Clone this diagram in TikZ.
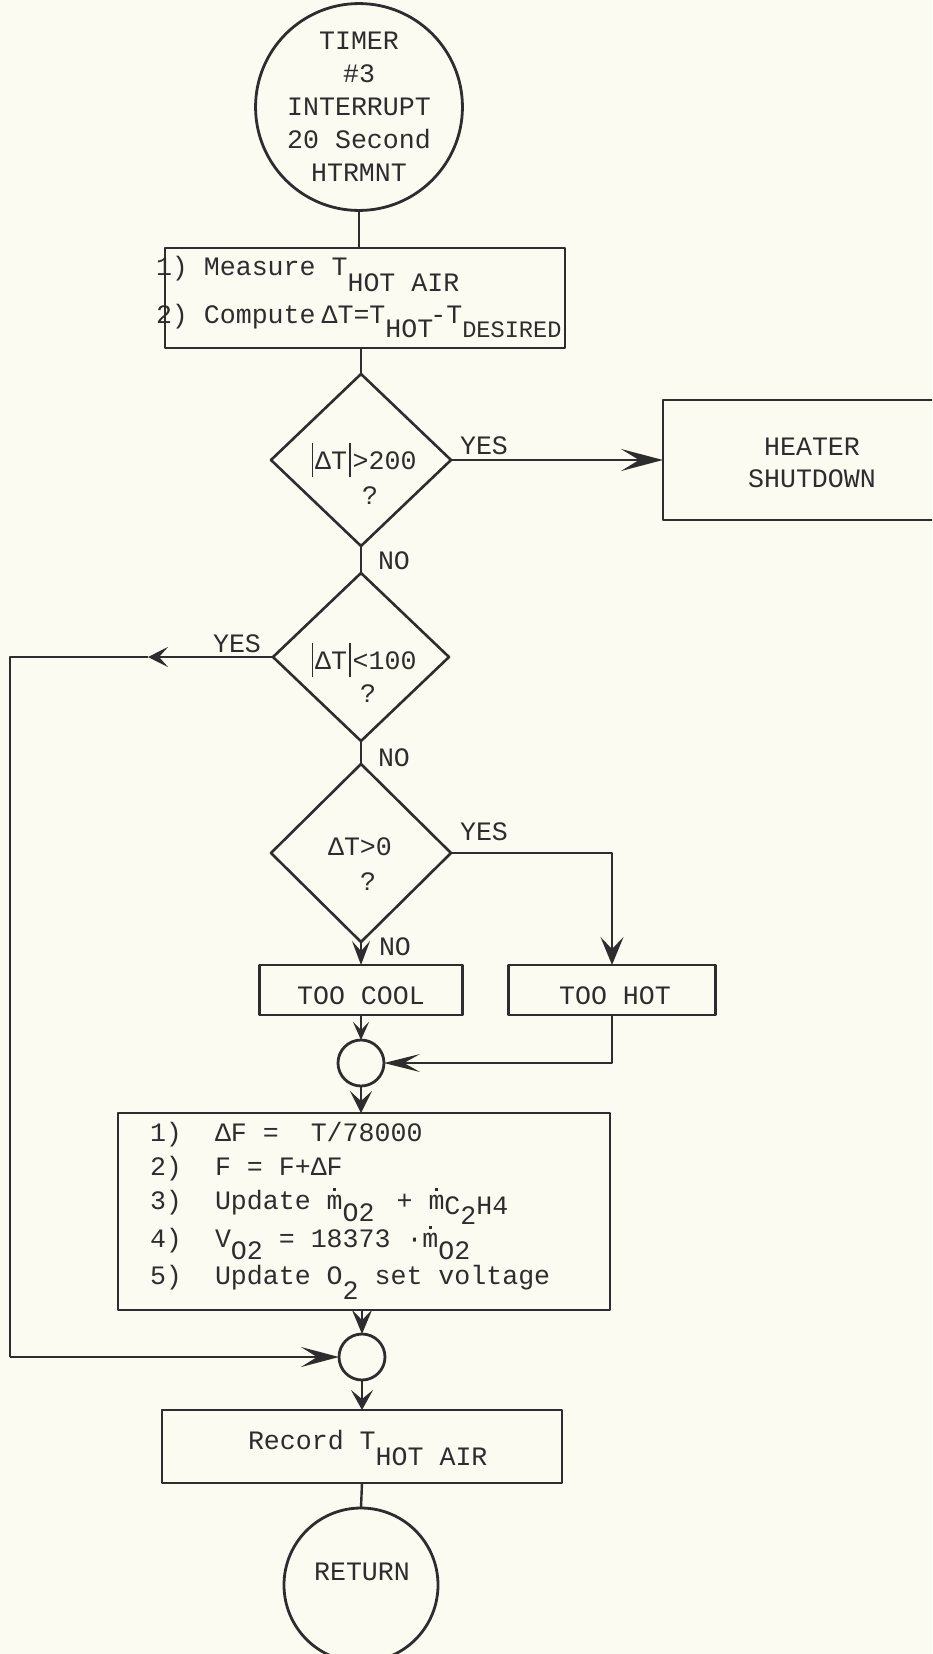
\documentclass[tikz,border=0pt]{standalone}
\usepackage{fontspec}
\newfontfamily\tw{Liberation Mono}
\usetikzlibrary{arrows.meta,shapes.geometric}
\definecolor{paper}{RGB}{251,251,242}
\definecolor{ink}{RGB}{45,45,45}
\newcommand\sub[2][7.5pt]{\raisebox{-#1}{#2}}
\newcommand\mdt{\ooalign{m\cr\hidewidth\raisebox{9pt}{\rule{1.6pt}{1.6pt}}\hidewidth\cr}}
\newcommand\vb{\kern1pt\rule[-4pt]{0.8pt}{17pt}\kern1pt}
\tikzset{
  shapeb/.style={draw=ink, line width=1.4pt},
  dia/.style={diamond, draw=ink, line width=1.3pt},
  conn/.style={draw=ink, line width=1.2pt},
  lbl/.style={anchor=base west},
  ctr/.style={anchor=base},
  arw/.style n args={3}{-{Stealth[length=#1,width=#2,inset=#3]}},
}
\begin{document}
\begin{tikzpicture}[x=0.5pt,y=-0.5pt,line join=round,
  every node/.style={font=\tw\fontsize{13.3}{16.5}\selectfont, text=ink, inner sep=0pt, outer sep=0pt}]
\useasboundingbox (0,0) rectangle (932,1654);
\fill[paper] (0,0) rectangle (932,1654);
\clip (0,0) rectangle (932,1654);

% start
\node[shapeb, circle, minimum size=100pt, align=center] (start) at (359,107) {TIMER\\\#3\\INTERRUPT\\20 Second\\HTRMNT};

% box 1
\node[shapeb, minimum width=200pt, minimum height=50pt] (box1) at (365,298) {};
\node[lbl] (b1a) at (156,275) {1) Measure T\sub[8pt]{HOT AIR}};
\node[lbl] (b1b) at (156,323) {2) Compute\kern3pt ΔT=T\sub[7pt]{HOT}\kern-1.5pt-T\sub[7pt]{\fontsize{11.8}{13}\selectfont DESIRED}};

% decision 1
\node[dia, minimum width=90pt, minimum height=86pt] (d1) at (361,460) {};
\node[ctr] (d1a) at (363,469) {\vb ΔT\vb>200};
\node[ctr] (d1q) at (370,504) {?};

% heater
\node[shapeb, minimum width=141pt, minimum height=60pt] (heat) at (804,460) {};
\node[ctr] (heat1) at (812,455) {HEATER};
\node[ctr] (heat2) at (812,487) {SHUTDOWN};

% decision 2
\node[dia, minimum width=88pt, minimum height=84pt] (d2) at (361,657) {};
\node[ctr] (d2a) at (363,669) {\vb ΔT\vb<100};
\node[ctr] (d2q) at (368,702) {?};

% decision 3
\node[dia, minimum width=90pt, minimum height=89pt] (d3) at (361,853) {};
\node[ctr] (d3a) at (360,855) {ΔT>0};
\node[ctr] (d3q) at (368,890) {?};

% too cool / too hot
\node[shapeb, minimum width=101.5pt, minimum height=25pt] (cool) at (361,990) {};
\node[ctr] (coolt) at (361,1004) {TOO COOL};
\node[shapeb, minimum width=103.5pt, minimum height=25pt] (hot) at (612,990) {};
\node[ctr] (hott) at (615,1004) {TOO HOT};

% merge 1
\node[shapeb, circle, minimum size=23pt] (m1) at (361,1063) {};

% big box
\node[shapeb, minimum width=246pt, minimum height=98.5pt] (big) at (364,1211.5) {};
\node[lbl] (g1n) at (150,1141) {1)};
\node[lbl] (g1) at (215,1141) {ΔF =~~T/78000};
\node[lbl] (g2n) at (150,1175) {2)};
\node[lbl] (g2) at (215,1175) {F = F+ΔF};
\node[lbl] (g3n) at (150,1209) {3)};
\node[lbl] (g3) at (215,1209) {Update \mdt\sub[6pt]{O2}\kern3pt{} + \mdt\sub[2.5pt]{C\raisebox{-5pt}{2}H4}};
\node[lbl] (g4n) at (150,1247) {4)};
\node[lbl] (g4) at (215,1247) {V\sub[6pt]{O2} = 18373 ·\mdt\sub[6pt]{O2}};
\node[lbl] (g5n) at (150,1284) {5)};
\node[lbl] (g5) at (215,1284) {Update O\sub[7.5pt]{2} set voltage};

% merge 2
\node[shapeb, circle, minimum size=23pt] (m2) at (362,1357) {};

% record
\node[shapeb, minimum width=200pt, minimum height=36.5pt] (rec) at (362,1446.5) {};
\node[lbl] (rect) at (248,1449) {Record T\sub[8pt]{HOT AIR}};

% return
\node[shapeb, circle, minimum size=77pt] (ret) at (361,1585) {};
\node[ctr] (rett) at (362,1580) {RETURN};

% labels
\node[ctr] (y1) at (484,454) {YES};
\node[lbl] (n1) at (378,569) {NO};
\node[ctr] (y2) at (237,652) {YES};
\node[lbl] (n2) at (378,766) {NO};
\node[ctr] (y3) at (484,840) {YES};
\node[lbl] (n3) at (379,955) {NO};

% loop coordinates
\coordinate (lA) at (148,657);
\coordinate (lB) at (10,657);
\coordinate (lC) at (10,1357);

% connectors
\draw[conn] (start.south) -- (start.south |- box1.north);
\draw[conn] (box1.south -| d1.north) -- (d1.north);
\draw[conn, arw={21pt}{11pt}{9pt}] (d1.east) -- (heat.west);
\draw[conn] (d1.south) -- (d2.north);
\draw[conn, arw={10pt}{10pt}{4.5pt}] (d2.west) -- (lA);
\draw[conn] (lA) -- (lB) -- (lC);
\draw[conn, arw={19pt}{10pt}{8pt}] (lC) -- (m2.west);
\draw[conn] (d2.south) -- (d3.north);
\draw[conn, arw={12pt}{9pt}{5pt}] (d3.south) -- (cool.north);
\draw[conn, arw={14pt}{11.5pt}{6pt}] (d3.east) -| (hot.north);
\draw[conn, arw={9pt}{8pt}{4pt}] (cool.south) -- (m1.north);
\draw[conn, arw={18pt}{9pt}{8pt}] (hot.south) |- (m1.east);
\draw[conn, arw={11pt}{11pt}{5pt}] (m1.south) -- (m1.south |- big.north);
\draw[conn, arw={12pt}{10pt}{5pt}] (big.south -| m2.north) -- (m2.north);
\draw[conn, arw={10pt}{11pt}{4.5pt}] (m2.south) -- (rec.north);
\draw[conn] (rec.south) -- (ret.north);
\end{tikzpicture}
\end{document}
